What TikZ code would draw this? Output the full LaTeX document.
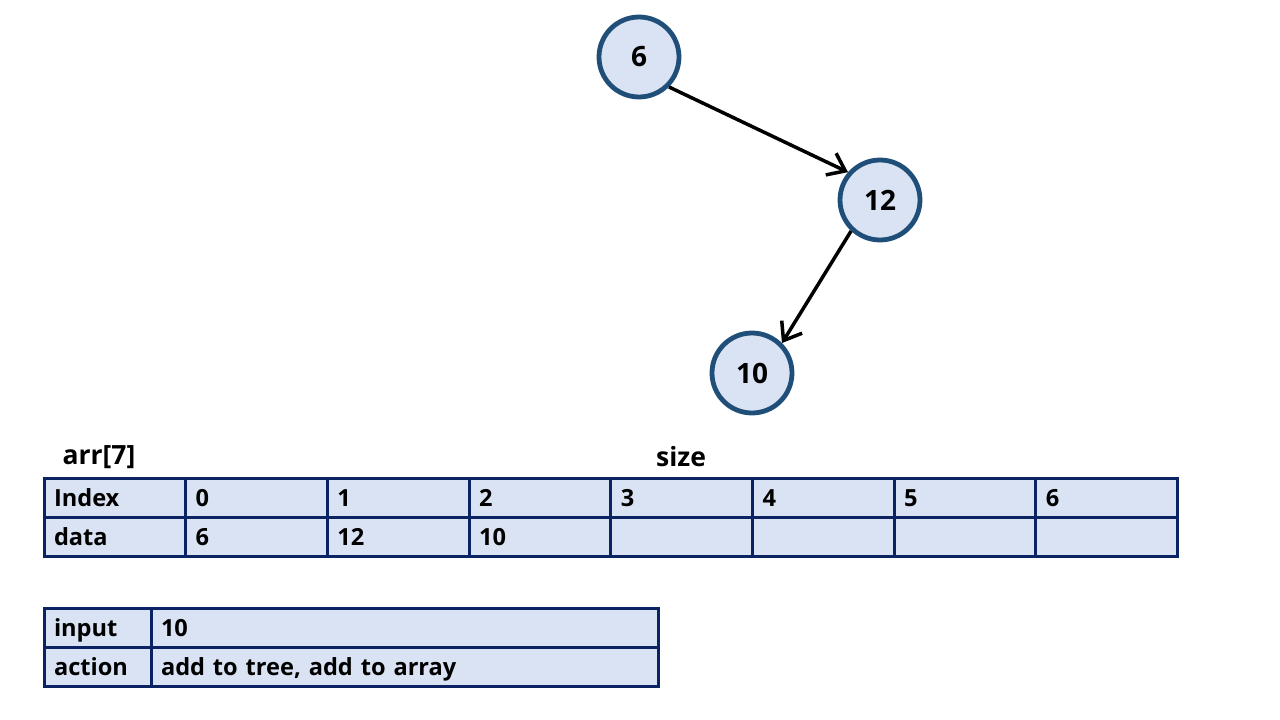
\documentclass[tikz,border=0pt]{standalone}
\usepackage{fontspec}
\setmainfont{Open Sans}[BoldFont={Open Sans Bold}]
\usetikzlibrary{positioning, arrows.meta}
\definecolor{cellfill}{HTML}{DAE3F3}
\definecolor{ringblue}{HTML}{1F4E79}
\definecolor{gridblue}{HTML}{0B2363}
\tikzset{>={Straight Barb[length=16pt,width=24pt,line width=3.5pt]}, % open arrow heads
treenode/.style={circle, draw=ringblue, fill=cellfill, line width=4.8pt, minimum size=80pt, inner sep=0pt, font=\bfseries\fontsize{28}{32}\selectfont}, % tree nodes
cell/.style={draw=gridblue, fill=cellfill, line width=3pt, outer sep=0pt, minimum height=39pt, text height=19pt, text depth=2pt, inner xsep=10pt, text width=121.7pt, align=left, anchor=north west, font=\bfseries\fontsize{23.6}{26}\selectfont}, % array cells
keycell/.style={cell, text width=87pt}, % first column of the second table
wide/.style={cell, text width=487pt}, % long cell
label/.style={font=\bfseries\fontsize{26.5}{30}\selectfont}, % titles above the table
}
\begin{document}
\begin{tikzpicture}[x=1pt, y=-1pt]
\useasboundingbox (0,0) rectangle (1280,720);

\node[treenode] (n6) at (639,57) {6};
\node[treenode] (n12) at (880,200) {12};
\node[treenode] (n10) at (752,373) {10};

\draw[->, line width=3.5pt] (n6.-45) -- (n12.139);
\draw[->, line width=3.5pt] (n12.227) -- (n10.45);

\node[label, anchor=west] (arr) at (59,457) {arr[7]};
\node[label] (size) at (681,457) {size};

\node[cell] (i0) at (44,478) {Index};
\node[cell, right=0pt of i0] (i1) {0};
\node[cell, right=0pt of i1] (i2) {1};
\node[cell, right=0pt of i2] (i3) {2};
\node[cell, right=0pt of i3] (i4) {3};
\node[cell, right=0pt of i4] (i5) {4};
\node[cell, right=0pt of i5] (i6) {5};
\node[cell, right=0pt of i6] (i7) {6};

\node[cell, below=0pt of i0] (d0) {data};
\node[cell, right=0pt of d0] (d1) {6};
\node[cell, right=0pt of d1] (d2) {12};
\node[cell, right=0pt of d2] (d3) {10};
\node[cell, right=0pt of d3] (d4) {};
\node[cell, right=0pt of d4] (d5) {};
\node[cell, right=0pt of d5] (d6) {};
\node[cell, right=0pt of d6] (d7) {};

\node[keycell] (input) at (44,608) {input};
\node[wide, right=0pt of input] (inval) {10};
\node[keycell, below=0pt of input] (action) {action};
\node[wide, right=0pt of action] (actval) {add to tree, add to array};

\end{tikzpicture}
\end{document}
